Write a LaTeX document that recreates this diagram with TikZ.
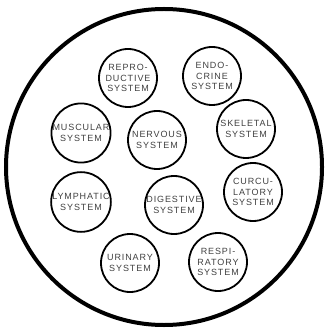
\documentclass[tikz,border=0pt]{standalone}
\usepackage{fontspec}
\setmainfont{Liberation Sans}
\usepackage{tikz}
\usetikzlibrary{positioning}

\tikzset{
    organ/.style={
        circle,
        draw=black,
        line width=1.8pt,
        minimum size=58pt,
        inner sep=0pt,
        align=center,
        text=black!75,
        font=\fontsize{9}{10.4}\selectfont\addfontfeatures{LetterSpace=10}
    },
    body/.style={
        circle,
        draw=black,
        line width=4pt,
        minimum size=316pt,
        inner sep=0pt
    }
}

\begin{document}
\begin{tikzpicture}[x=1pt, y=-1pt]

    \useasboundingbox (0,0) rectangle (326,328);

    \node[body] (whole) at (164,167) {};

    % top row
    \node[organ] (repro) at (128,78) {REPRO-\\DUCTIVE\\SYSTEM};
    \node[organ] (endo)  at (212,76) {ENDO-\\CRINE\\SYSTEM};

    % second row
    \node[organ] (musc) at (81,133)  {MUSCULAR\\SYSTEM};
    \node[organ] (nerv) at (157,140) {NERVOUS\\SYSTEM};
    \node[organ] (skel) at (246,129) {SKELETAL\\SYSTEM};

    % third row
    \node[organ] (lymph) at (81,202)  {LYMPHATIC\\SYSTEM};
    \node[organ] (dig)   at (174,205) {DIGESTIVE\\SYSTEM};
    \node[organ] (circ)  at (253,192) {CURCU-\\LATORY\\SYSTEM};

    % bottom row
    \node[organ] (urin) at (130,263) {URINARY\\SYSTEM};
    \node[organ] (resp) at (218,262) {RESPI-\\RATORY\\SYSTEM};

\end{tikzpicture}
\end{document}
